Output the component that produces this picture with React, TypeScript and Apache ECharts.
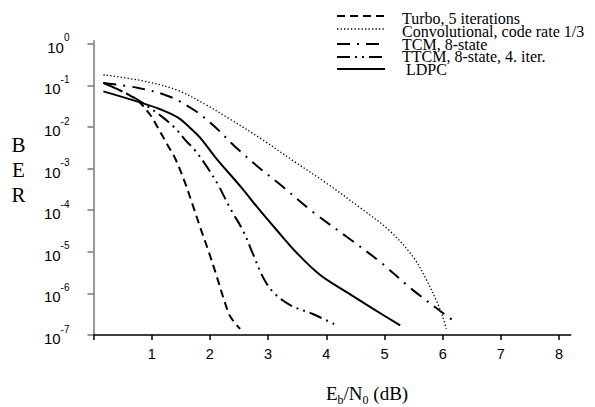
import React, { useEffect, useRef } from "react";
import * as echarts from "echarts";

// Eb/N0 (dB) and BER values
const turboX = [0.17, 0.37, 0.6, 0.77, 0.97, 1.1, 1.25, 1.4, 1.55, 1.7, 1.83, 1.97, 2.12, 2.26, 2.35, 2.52];
const turboY = [1.15e-1, 8.7e-2, 6.0e-2, 4.2e-2, 2.0e-2, 1.0e-2, 4.2e-3, 1.8e-3, 5.6e-4, 1.4e-4, 4.0e-5, 1.1e-5, 2.5e-6, 5.9e-7, 2.8e-7, 1.4e-7];

const convX = [0.17, 0.88, 1.45, 1.92, 2.31, 2.9, 3.46, 3.98, 4.6, 5.09, 5.49, 5.73, 5.9, 6.0, 6.06];
const convY = [1.8e-1, 1.26e-1, 7.6e-2, 3.5e-2, 1.66e-2, 5.0e-3, 1.45e-3, 4.7e-4, 1.1e-4, 3.2e-5, 7.6e-6, 2.0e-6, 6.3e-7, 2.8e-7, 1.4e-7];

const tcmX = [0.17, 0.77, 1.29, 1.74, 2.09, 2.43, 2.83, 3.24, 3.77, 4.35, 4.92, 5.49, 6.09, 6.19];
const tcmY = [1.15e-1, 8.7e-2, 5.5e-2, 2.5e-2, 1.0e-2, 3.4e-3, 1.1e-3, 3.8e-4, 9.1e-5, 2.3e-5, 5.8e-6, 1.2e-6, 2.75e-7, 2.2e-7];

const ttcmX = [0.17, 0.43, 0.66, 0.88, 1.17, 1.4, 1.57, 1.74, 1.95, 2.14, 2.35, 2.57, 2.74, 2.91, 3.08, 3.38, 3.77, 4.18];
const ttcmY = [1.15e-1, 7.9e-2, 5.5e-2, 3.5e-2, 1.8e-2, 9.5e-3, 5.0e-3, 2.8e-3, 1.1e-3, 4.1e-4, 1.1e-4, 3.2e-5, 8.9e-6, 2.5e-6, 1.1e-6, 5.2e-7, 3.2e-7, 1.7e-7];

const ldpcX = [0.17, 0.83, 1.17, 1.46, 1.69, 1.86, 2.09, 2.55, 2.81, 3.15, 3.49, 3.89, 4.35, 4.8, 5.27];
const ldpcY = [7.2e-2, 3.8e-2, 2.6e-2, 1.66e-2, 8.7e-3, 5.0e-3, 1.9e-3, 3.4e-4, 1.2e-4, 3.3e-5, 9.5e-6, 2.8e-6, 1.07e-6, 4.3e-7, 1.7e-7];

const seriesNames = [
  "Turbo, 5 iterations",
  "Convolutional, code rate 1/3",
  "TCM, 8-state",
  "TTCM, 8-state, 4. iter.",
  "LDPC",
];

const xTickValues = [0, 1, 2, 3, 4, 5, 6, 7, 8];
const xLabelValues = [1, 2, 3, 4, 5, 6, 7, 8];
const yTickValues = [1e-7, 1e-6, 1e-5, 1e-4, 1e-3, 1e-2, 1e-1, 1];

const zip = (xs: number[], ys: number[]) => xs.map((x, i) => [x, ys[i]]);

const SERIF = "'Liberation Serif', 'Times New Roman', serif";
const SANS = "'Liberation Sans', Arial, sans-serif";

const dashes: (number[] | "solid")[] = [
  [8, 5],
  [1.3, 2.2],
  [13, 7, 2, 7],
  [13, 5, 2, 5, 2, 5],
  "solid",
];
const widths = [2, 1.3, 2, 2, 2];

export default function App() {
  const ref = useRef<HTMLDivElement>(null);

  useEffect(() => {
    if (!ref.current) return;
    const chart = echarts.init(ref.current, undefined, { renderer: "svg" });

    const data = [
      zip(turboX, turboY),
      zip(convX, convY),
      zip(tcmX, tcmY),
      zip(ttcmX, ttcmY),
      zip(ldpcX, ldpcY),
    ];

    const legendLineY = [16, 29, 44, 57, 69];
    const legendTextY = [18, 31.5, 44, 56.5, 69];

    const legendGraphics: any[] = [];
    seriesNames.forEach((name, i) => {
      legendGraphics.push({
        type: "line",
        shape: { x1: 337, y1: legendLineY[i], x2: 385, y2: legendLineY[i] },
        style: {
          stroke: "#000",
          lineWidth: widths[i],
          lineDash: dashes[i] === "solid" ? null : (dashes[i] as number[]),
        },
      });
      legendGraphics.push({
        type: "text",
        x: i === 4 ? 406 : 402,
        y: legendTextY[i],
        style: {
          text: name,
          font: `16px ${SERIF}`,
          fill: "#000",
          textVerticalAlign: "middle",
          textAlign: "left",
        },
      });
    });

    chart.setOption({
      animation: false,
      backgroundColor: "#fff",
      grid: { left: 93.5, right: 24.3, top: 40.7, bottom: 72, containLabel: false },
      xAxis: {
        type: "value",
        min: 0,
        max: 8.2,
        interval: 1,
        axisLine: { show: true, lineStyle: { color: "#000", width: 1.5 } },
        axisTick: { show: true, length: 5, customValues: xTickValues, lineStyle: { color: "#000", width: 1.5 } },
        axisLabel: {
          customValues: xLabelValues,
          margin: 11,
          fontFamily: SANS,
          fontSize: 14.5,
          color: "#000",
        },
        splitLine: { show: false },
      },
      yAxis: {
        type: "log",
        logBase: 10,
        min: 1e-7,
        max: 1.19,
        axisLine: { show: true, lineStyle: { color: "#777", width: 1.5 } },
        axisTick: { show: true, length: 6, customValues: yTickValues, lineStyle: { color: "#777", width: 1.5 } },
        axisLabel: {
          customValues: yTickValues,
          margin: 24,
          formatter: (v: number) => `{b|10}{s|${Math.round(Math.log10(v))}}`,
          rich: {
            b: { fontFamily: SANS, fontSize: 15, lineHeight: 22, verticalAlign: "bottom", color: "#000" },
            s: { fontFamily: SANS, fontSize: 10, lineHeight: 11, verticalAlign: "top", color: "#000" },
          },
        },
        splitLine: { show: false },
      },
      series: data.map((d, i) => ({
        name: seriesNames[i],
        type: "line",
        data: d,
        symbol: "none",
        smooth: 0.35,
        lineStyle: {
          color: "#000",
          width: widths[i],
          type: dashes[i],
        },
      })),
      graphic: [
        {
          type: "text",
          x: 18.5,
          y: 170,
          style: {
            text: "B\nE\nR",
            font: `21px ${SERIF}`,
            lineHeight: 25,
            fill: "#000",
            textAlign: "center",
            textVerticalAlign: "middle",
          },
        },
        {
          type: "text",
          x: 326,
          y: 395,
          style: {
            text: "{m|E}{s|b}{m|/N}{s|0}{m| (dB)}",
            textAlign: "left",
            textVerticalAlign: "middle",
            rich: {
              m: { fontFamily: SERIF, fontSize: 19, lineHeight: 22, verticalAlign: "top", fill: "#000", color: "#000" },
              s: { fontFamily: SERIF, fontSize: 12, lineHeight: 12, verticalAlign: "bottom", fill: "#000", color: "#000" },
            },
          },
        },
        ...legendGraphics,
      ],
    });

    return () => chart.dispose();
  }, []);

  return (
    <div
      ref={ref}
      style={{ position: "fixed", left: 0, top: 0, width: 595, height: 407, background: "#fff" }}
    />
  );
}
